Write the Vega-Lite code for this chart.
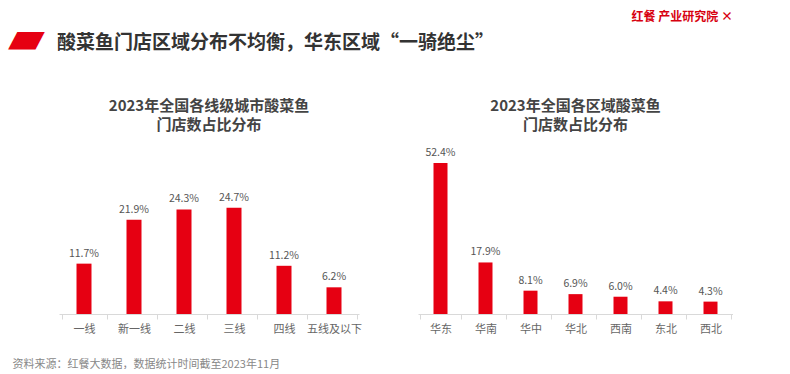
{
  "$schema": "https://vega.github.io/schema/vega-lite/v6.json",
  "background": "white",
  "padding": {"left": 8, "top": 11, "right": 0, "bottom": 0},
  "config": {
    "font": "Noto Sans CJK SC",
    "view": {"stroke": null}
  },
  "title": {"text": "▰", "font": "DejaVu Sans", "orient": "bottom", "color": "#e60012", "fontSize": 48, "anchor": "start", "frame": "bounds", "offset": 0, "dx": -4, "dy": -354},
  "vconcat": [
    {
      "title": {"text": "红餐 产业研究院 ×", "color": "#d7000f", "fontSize": 12, "fontWeight": "bold", "anchor": "end", "frame": "bounds", "offset": 10},
      "vconcat": [
        {
          "title": {"text": "酸菜鱼门店区域分布不均衡，华东区域“一骑绝尘”", "color": "#333333", "fontSize": 19, "fontWeight": "bold", "anchor": "start", "frame": "bounds", "offset": 46, "dx": 45},
          "spacing": 56,
          "hconcat": [
            {
              "width": 300,
              "height": 167,
              "title": {"text": ["2023年全国各线级城市酸菜鱼", "门店数占比分布"], "fontSize": 15, "fontWeight": "bold", "color": "#444444", "lineHeight": 19, "offset": 14, "anchor": "middle"},
              "data": {"values": [
                {"city": "一线", "pct": 0.117},
                {"city": "新一线", "pct": 0.219},
                {"city": "二线", "pct": 0.243},
                {"city": "三线", "pct": 0.247},
                {"city": "四线", "pct": 0.112},
                {"city": "五线及以下", "pct": 0.062}
              ]},
              "encoding": {
                "x": {"field": "city", "type": "nominal", "sort": null, "title": "资料来源：红餐大数据，数据统计时间截至2023年11月",
                  "axis": {"domainColor": "#d9d9d9", "tickColor": "#d9d9d9", "tickBand": "extent", "tickSize": 5, "labelAngle": 0, "labelColor": "#666666", "labelFontSize": 11, "labelPadding": 4, "titleX": -47, "titleY": 50, "titleAlign": "left", "titleAnchor": null, "titleFontSize": 11, "titleColor": "#888888", "titleFontWeight": "normal", "titleBaseline": "middle"}},
                "y": {"field": "pct", "type": "quantitative", "scale": {"domain": [0, 0.388]}, "axis": null}
              },
              "layer": [
                {"mark": {"type": "bar", "size": 15, "color": "#e60012"}},
                {"mark": {"type": "text", "dy": -10, "fontSize": 10.5, "color": "#555555"}, "encoding": {"text": {"field": "pct", "type": "quantitative", "format": ".1%"}}}
              ]
            },
            {
              "width": 315,
              "height": 167,
              "title": {"text": ["2023年全国各区域酸菜鱼", "门店数占比分布"], "fontSize": 15, "fontWeight": "bold", "color": "#444444", "lineHeight": 19, "offset": 14, "anchor": "middle"},
              "data": {"values": [
                {"region": "华东", "pct": 0.524},
                {"region": "华南", "pct": 0.179},
                {"region": "华中", "pct": 0.081},
                {"region": "华北", "pct": 0.069},
                {"region": "西南", "pct": 0.060},
                {"region": "东北", "pct": 0.044},
                {"region": "西北", "pct": 0.043}
              ]},
              "encoding": {
                "x": {"field": "region", "type": "nominal", "sort": null, "title": null,
                  "axis": {"domainColor": "#d9d9d9", "tickColor": "#d9d9d9", "tickBand": "extent", "tickSize": 5, "labelAngle": 0, "labelColor": "#666666", "labelFontSize": 11, "labelPadding": 4}},
                "y": {"field": "pct", "type": "quantitative", "scale": {"domain": [0, 0.58]}, "axis": null}
              },
              "layer": [
                {"mark": {"type": "bar", "size": 14, "color": "#e60012"}},
                {"mark": {"type": "text", "dy": -10, "fontSize": 10.5, "color": "#555555"}, "encoding": {"text": {"field": "pct", "type": "quantitative", "format": ".1%"}}}
              ]
            }
          ]
        }
      ]
    }
  ]
}
